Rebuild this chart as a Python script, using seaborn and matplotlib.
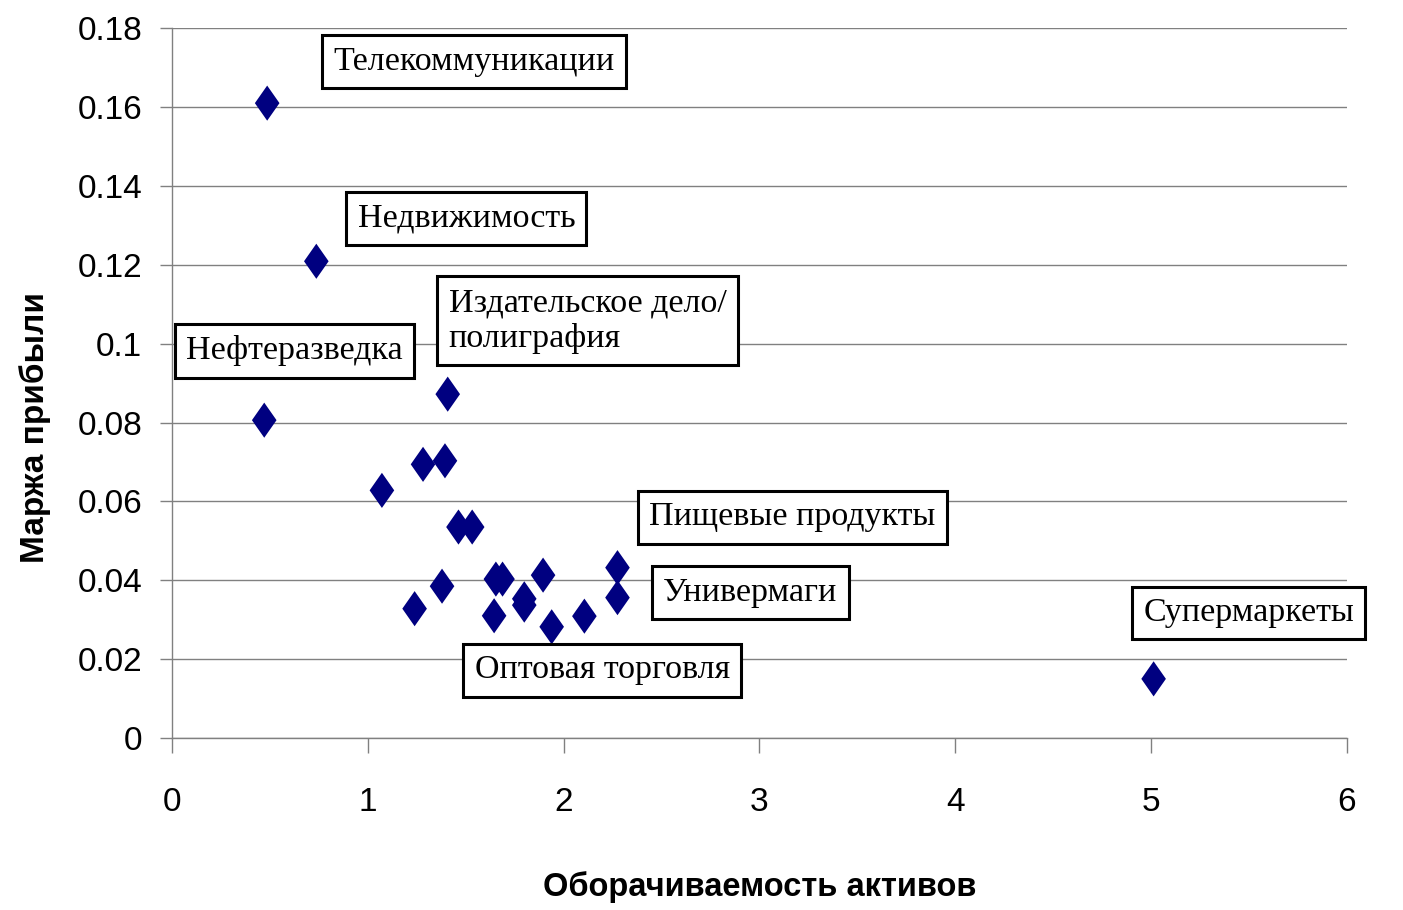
"""
Profit margin vs asset turnover by industry
"""
import numpy as np
import pandas as pd
import matplotlib
matplotlib.use("Agg")
import matplotlib.pyplot as plt
from matplotlib.path import Path
from matplotlib.markers import MarkerStyle
import seaborn as sns

# data
turnover = [0.486, 0.737, 0.471, 1.408, 1.072, 1.282, 1.394, 1.463, 1.533,
            1.379, 1.239, 1.654, 1.688, 1.895, 1.645, 1.799, 1.799, 1.939,
            2.106, 2.275, 2.275, 5.013]
margin = [0.161, 0.1209, 0.0806, 0.0872, 0.0628, 0.0694, 0.0703, 0.0535, 0.0535,
          0.0385, 0.0328, 0.0403, 0.0403, 0.0413, 0.0310, 0.0353, 0.0337, 0.0282,
          0.0309, 0.0432, 0.0356, 0.0150]

labels = ["Телекоммуникации", "Недвижимость", "Нефтеразведка",
          "Издательское дело/\nполиграфия", "Пищевые продукты", "Универмаги",
          "Оптовая торговля", "Супермаркеты"]
label_x = [1.541, 1.503, 0.625, 2.122, 3.167, 2.954, 2.197, 5.499]
label_y = [0.1715, 0.1318, 0.0982, 0.1058, 0.0560, 0.0368, 0.0172, 0.0317]

x_ticks = [0, 1, 2, 3, 4, 5, 6]
y_ticks = [0, 0.02, 0.04, 0.06, 0.08, 0.1, 0.12, 0.14, 0.16, 0.18]
y_tick_labels = ["0", "0.02", "0.04", "0.06", "0.08", "0.1", "0.12", "0.14", "0.16", "0.18"]

df = pd.DataFrame({"turnover": turnover, "margin": margin})

sns.set_style("white")
sans = ["Liberation Sans", "DejaVu Sans"]
serif = ["Liberation Serif", "DejaVu Serif"]
plt.rcParams["font.family"] = sans
plt.rcParams["text.color"] = "black"
plt.rcParams["axes.labelcolor"] = "black"

fig, ax = plt.subplots(figsize=(14.03, 9.10), dpi=100)
fig.subplots_adjust(left=0.1226, right=0.960, bottom=0.189, top=0.969)

# tall diamond marker
diamond = MarkerStyle(Path([(0, 1), (0.7, 0), (0, -1), (-0.7, 0), (0, 1)],
                           [Path.MOVETO, Path.LINETO, Path.LINETO, Path.LINETO,
                            Path.CLOSEPOLY]))
sns.scatterplot(data=df, x="turnover", y="margin", marker=diamond, s=640,
                color="#000080", edgecolor="none", linewidth=0, ax=ax, zorder=3)

ax.set_xlim(0, 6)
ax.set_ylim(0, 0.18)
ax.set_xticks(x_ticks)
ax.set_yticks(y_ticks)
ax.set_yticklabels(y_tick_labels)

ax.grid(axis="y", color="#808080", linewidth=1)
ax.grid(axis="x", visible=False)
ax.set_axisbelow(True)
for side in ["top", "right"]:
    ax.spines[side].set_visible(False)
for side in ["left", "bottom"]:
    ax.spines[side].set_color("#808080")
    ax.spines[side].set_linewidth(1)

ax.tick_params(axis="x", direction="out", length=11, width=1, color="#808080",
               pad=24, labelsize=24, labelcolor="black", bottom=True)
ax.tick_params(axis="y", direction="out", length=8.6, width=1, color="#808080",
               pad=13, labelsize=24, labelcolor="black", left=True)

ax.set_xlabel("Оборачиваемость активов", fontsize=23.5, fontweight="bold")
ax.set_ylabel("Маржа прибыли", fontsize=24, fontweight="bold")
ax.xaxis.set_label_coords(0.5, -0.187)
ax.yaxis.label.set_va("center")
ax.yaxis.set_label_coords(-0.117, 0.437)

for txt, lx, ly in zip(labels, label_x, label_y):
    ax.text(lx, ly, txt, family=serif, fontsize=24.5, ha="center", va="center",
            multialignment="left", color="black", zorder=4,
            bbox=dict(boxstyle="square,pad=0.33", facecolor="white",
                      edgecolor="black", linewidth=2.2))

fig.savefig("out.png", dpi=100)
plt.close(fig)
